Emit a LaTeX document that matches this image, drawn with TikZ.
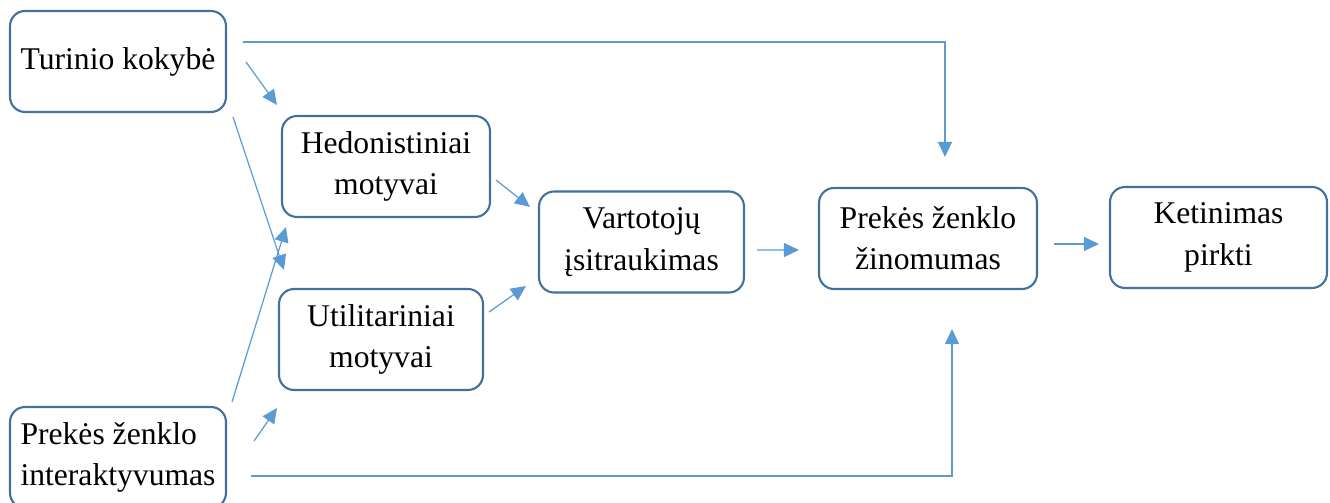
\documentclass[tikz,border=0pt]{standalone}
\usepackage{fontspec}
\setmainfont{Liberation Serif}
\usepackage{tikz}
\usetikzlibrary{arrows.meta}

\definecolor{boxline}{HTML}{41719C}
\definecolor{arrline}{HTML}{5B9BD5}

\tikzset{
   box/.style={
      draw = boxline,
      line width = 1.2pt,
      rounded corners = 0.3cm,
      minimum height = 2.02cm,
      inner sep = 0pt,
      align = center,
      font = \fontsize{18}{23.5}\selectfont
   },
   arr/.style={
      draw = arrline,
      line width = 0.7pt,
      -{Triangle[length=0.3cm,width=0.28cm]}
   }
}

\begin{document}
\begin{tikzpicture}[x=0.02cm, y=-0.02cm]
   \useasboundingbox (0,0) rectangle (1330,503);

   \node[box, minimum width=4.32cm] (tk) at (118,61.5) {Turinio kokyb\.e};
   \node[box, minimum width=4.16cm] (hm) at (386,166.5) {Hedonistiniai\\motyvai};
   \node[box, minimum width=4.08cm] (um) at (381,339.5) {Utilitariniai\\motyvai};
   \node[box, minimum width=4.10cm] (vi) at (641.5,242) {Vartotojų\\įsitraukimas};
   \node[box, minimum width=4.36cm] (pz) at (928,238.5) {Prekės ženklo\\žinomumas};
   \node[box, minimum width=4.34cm] (kp) at (1218.5,237.5) {Ketinimas\\pirkti};
   \node[box, minimum width=4.32cm, align=left] (pi) at (118,457.5) {Prekės ženklo\\interaktyvumas};

   % to the motives
   \draw[arr] ([shift={(19,0.5)}]tk.east) -- ([shift={(-4,-10)}]hm.north west);
   \draw[arr] ([shift={(6,4)}]tk.south east) -- ([shift={(6,-18)}]um.north west);
   \draw[arr] ([shift={(5,-4)}]pi.north east) -- ([shift={(5,9)}]hm.south west);
   \draw[arr] ([shift={(27,-16.5)}]pi.east) -- ([shift={(-1,17)}]um.south west);

   \draw[arr] ([shift={(5,13.5)}]hm.east) -- ([shift={(-8,-35)}]vi.west);
   \draw[arr] ([shift={(5,-27.5)}]um.east) -- ([shift={(-12,44)}]vi.west);
   \draw[arr] ([shift={(12,8)}]vi.east) -- ([shift={(-19,11.5)}]pz.west);
   \draw[arr] ([shift={(16,5.5)}]pz.east) -- ([shift={(-10,6.5)}]kp.west);

   % long lines
   \draw[arr] ([shift={(16,-19.5)}]tk.east) -| ([shift={(17,-30)}]pz.north);
   \draw[arr] ([shift={(24,18.5)}]pi.east) -| ([shift={(24,39)}]pz.south);

\end{tikzpicture}
\end{document}
